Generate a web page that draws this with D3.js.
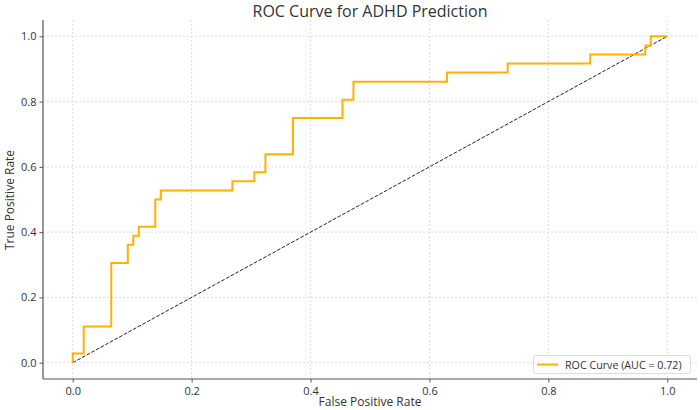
<!DOCTYPE html>
<html><head><meta charset="utf-8">
<script src="https://cdn.jsdelivr.net/npm/d3@7"></script>
<style>body{margin:0;background:#fff}svg{display:block}text{font-family:"Open Sans",sans-serif}</style>
</head><body><svg id="c" width="700" height="410"></svg>
<script>
// ROC curve points (false positive rate, true positive rate)
const fpr = [0, 0, 0.0185, 0.0185, 0.0648, 0.0648, 0.0926, 0.0926, 0.1019, 0.1019, 0.1111, 0.1111, 0.1389, 0.1389, 0.1481, 0.1481, 0.2685, 0.2685, 0.3056, 0.3056, 0.3241, 0.3241, 0.3704, 0.3704, 0.4537, 0.4537, 0.4722, 0.4722, 0.6296, 0.6296, 0.7315, 0.7315, 0.8704, 0.8704, 0.9630, 0.9630, 0.9722, 0.9722, 1.0];
const tpr = [0, 0.0278, 0.0278, 0.1111, 0.1111, 0.3056, 0.3056, 0.3611, 0.3611, 0.3889, 0.3889, 0.4167, 0.4167, 0.5, 0.5, 0.5278, 0.5278, 0.5556, 0.5556, 0.5833, 0.5833, 0.6389, 0.6389, 0.75, 0.75, 0.8056, 0.8056, 0.8611, 0.8611, 0.8889, 0.8889, 0.9167, 0.9167, 0.9444, 0.9444, 0.9722, 0.9722, 1.0, 1.0];
const diagX = [0, 1];
const diagY = [0, 1];
const xTicks = [0, 0.2, 0.4, 0.6, 0.8, 1.0];
const yTicks = [0, 0.2, 0.4, 0.6, 0.8, 1.0];
const title = "ROC Curve for ADHD Prediction";
const xLabel = "False Positive Rate";
const yLabel = "True Positive Rate";
const legendLabel = "ROC Curve (AUC = 0.72)";

const svg = d3.select("#c");
const L = 43, R = 697, T = 20, B = 379;
const x = d3.scaleLinear().domain([-0.05, 1.05]).range([L, R]);
const y = d3.scaleLinear().domain([-0.05, 1.05]).range([B, T]);

// grid
const g = svg.append("g");
g.selectAll(".gx").data(xTicks).join("line")
  .attr("x1", d => x(d)).attr("x2", d => x(d)).attr("y1", T).attr("y2", B)
  .attr("stroke", "#d6d6d6").attr("stroke-width", 0.8).attr("stroke-dasharray", "2,2");
g.selectAll(".gy").data(yTicks).join("line")
  .attr("y1", d => y(d)).attr("y2", d => y(d)).attr("x1", L).attr("x2", R)
  .attr("stroke", "#d6d6d6").attr("stroke-width", 0.8).attr("stroke-dasharray", "2,2");

// diagonal
const line = d3.line().x(d => x(d[0])).y(d => y(d[1]));
svg.append("path").datum(diagX.map((v, i) => [v, diagY[i]]))
  .attr("d", line).attr("fill", "none").attr("stroke", "#222").attr("stroke-width", 1)
  .attr("stroke-dasharray", "3.7,1.6");

// ROC
svg.append("path").datum(fpr.map((v, i) => [v, tpr[i]]))
  .attr("d", line).attr("fill", "none").attr("stroke", "#FFB000").attr("stroke-width", 2)
  .attr("stroke-linejoin", "miter");

// axes
const xa = svg.append("g").attr("transform", `translate(0,${B})`)
  .call(d3.axisBottom(x).tickValues(xTicks).tickFormat(d3.format(".1f")).tickSize(3.5).tickPadding(4.5));
const ya = svg.append("g").attr("transform", `translate(${L},0)`)
  .call(d3.axisLeft(y).tickValues(yTicks).tickFormat(d3.format(".1f")).tickSize(3.5).tickPadding(3));
[xa, ya].forEach(a => {
  a.select(".domain").attr("stroke", "#555").attr("stroke-width", 1.2);
  a.selectAll(".tick line").attr("stroke", "#555");
  a.selectAll(".tick text").attr("fill", "#333").style("font-size", "11px").style("font-family", "'Open Sans',sans-serif");
});
xa.select(".domain").attr("d", `M${L},0H${R}`);
ya.select(".domain").attr("d", `M0,${T}V${B}`);

// labels
svg.append("text").attr("x", 370).attr("y", 17).attr("text-anchor", "middle")
  .attr("fill", "#333").style("font-size", "16px").text(title);
svg.append("text").attr("x", 370).attr("y", 406).attr("text-anchor", "middle")
  .attr("fill", "#333").style("font-size", "12px").text(xLabel);
svg.append("text").attr("transform", "translate(14,200) rotate(-90)").attr("text-anchor", "middle")
  .attr("fill", "#333").style("font-size", "12px").text(yLabel);

// legend
const lg = svg.append("g");
lg.append("rect").attr("x", 533.5).attr("y", 355.5).attr("width", 157).attr("height", 18)
  .attr("rx", 2).attr("fill", "#fff").attr("fill-opacity", 0.85).attr("stroke", "#ddd");
lg.append("line").attr("x1", 537).attr("x2", 558).attr("y1", 364.5).attr("y2", 364.5)
  .attr("stroke", "#FFB000").attr("stroke-width", 2);
lg.append("text").attr("x", 565).attr("y", 368.5).attr("fill", "#333").style("font-size", "10.7px").text(legendLabel);
</script></body></html>
